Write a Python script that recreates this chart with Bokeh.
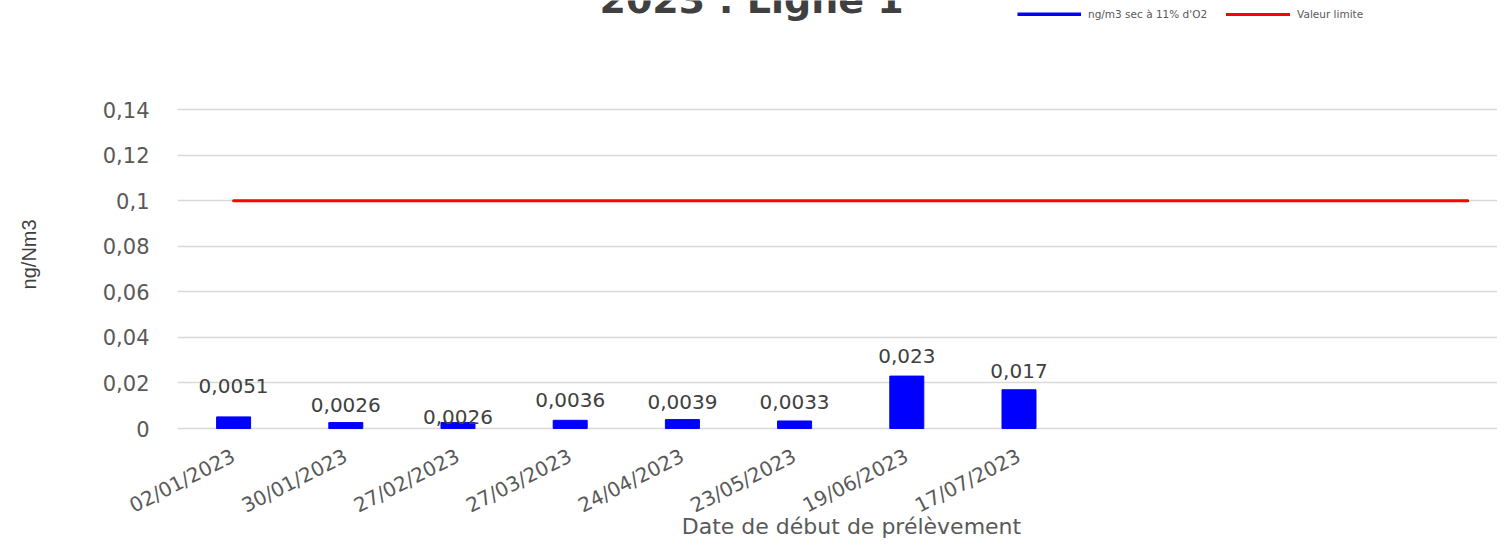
import math
from bokeh.plotting import figure
from bokeh.models import (Range1d, FixedTicker, ColumnDataSource, Legend, LegendItem,
                          Label, LabelSet)
from bokeh.embed import file_html
from bokeh.resources import INLINE
from bokeh.core.properties import value

# ---------------- data ----------------
dates = ["02/01/2023", "30/01/2023", "27/02/2023", "27/03/2023",
         "24/04/2023", "23/05/2023", "19/06/2023", "17/07/2023"]
concentrations = [0.0051, 0.0026, 0.0026, 0.0036, 0.0039, 0.0033, 0.023, 0.017]
value_labels = ["0,0051", "0,0026", "0,0026", "0,0036", "0,0039", "0,0033", "0,023", "0,017"]
n_slots = 12            # category slots on the axis
limit_value = 0.1
y_ticks = [0, 0.02, 0.04, 0.06, 0.08, 0.10, 0.12, 0.14]
y_tick_labels = ["0", "0,02", "0,04", "0,06", "0,08", "0,1", "0,12", "0,14"]
title_text = "2023 : Ligne 1"
series_name = "ng/m3 sec à 11% d'O2"
limit_name = "Valeur limite"
x_title = "Date de début de prélèvement"
y_title = "ng/Nm3"

# ---------------- layout / style ----------------
label_dy = [31, 18, 6, 20, 18, 19, 20, 19]   # pixel offset of data labels above bars
W, H = 1497, 545
frame_left, frame_bottom = 177, 430
slot_px = 112.2
y_px = 319 / 0.14
x_start = -0.5
x_end = x_start + (W - frame_left) / slot_px
y_start = -2 / y_px
y_end = 0.14 + 109 / y_px
GREY = "#595959"
DARK = "#404040"
NBSP = "\u00a0"

p = figure(width=W, height=H, output_backend="svg", toolbar_location=None,
           x_range=Range1d(x_start, x_end), y_range=Range1d(y_start, y_end))
p.min_border_left = frame_left
p.min_border_right = 0
p.min_border_top = 0
p.min_border_bottom = H - frame_bottom
p.outline_line_color = None
p.background_fill_color = "white"
p.border_fill_color = "white"

# grid
p.xgrid.grid_line_color = None
p.ygrid.ticker = FixedTicker(ticks=y_ticks)
p.ygrid.grid_line_color = "#D9D9D9"
p.ygrid.grid_line_width = 1.5

# y axis
p.yaxis.ticker = FixedTicker(ticks=y_ticks)
p.yaxis.major_label_overrides = dict(zip(y_ticks, y_tick_labels))
p.yaxis.axis_line_color = None
p.yaxis.major_tick_line_color = None
p.yaxis.minor_tick_line_color = None
p.yaxis.major_label_standoff = 22
p.yaxis.major_label_text_font = "DejaVu Sans"
p.yaxis.major_label_text_font_size = "21px"
p.yaxis.major_label_text_color = GREY
# axis title, shifted down along the axis to sit where the reference has it
p.yaxis.axis_label = y_title + NBSP * 14
p.yaxis.axis_label_standoff = 60
p.yaxis.axis_label_text_font = "Liberation Sans"
p.yaxis.axis_label_text_font_size = "20px"
p.yaxis.axis_label_text_font_style = "normal"
p.yaxis.axis_label_text_color = DARK

# x axis
xs = list(range(len(dates)))
p.xaxis.ticker = FixedTicker(ticks=xs)
p.xaxis.major_label_overrides = dict(zip(xs, dates))
p.xaxis.major_label_orientation = math.radians(27)
p.xaxis.axis_line_color = None
p.xaxis.major_tick_line_color = None
p.xaxis.minor_tick_line_color = None
p.xaxis.major_label_standoff = 18
p.xaxis.major_label_text_font = "DejaVu Sans"
p.xaxis.major_label_text_font_size = "20px"
p.xaxis.major_label_text_color = GREY
p.xaxis.axis_label = NBSP * 4 + x_title
p.xaxis.axis_label_standoff = -17
p.xaxis.axis_label_text_font = "DejaVu Sans"
p.xaxis.axis_label_text_font_size = "22px"
p.xaxis.axis_label_text_font_style = "normal"
p.xaxis.axis_label_text_color = GREY

# bars
src = ColumnDataSource(dict(x=xs, top=concentrations, text=value_labels, dy=label_dy))
bars = p.vbar(x="x", top="top", width=0.303, source=src,
              fill_color="#0000FF", line_color="#0000FF")

# limit line
limit_r = p.line(x=list(range(n_slots)), y=[limit_value] * n_slots,
                 line_color="#FF0000", line_width=3, line_cap="round")

# data labels
labels = LabelSet(x="x", y="top", text="text", y_offset="dy", source=src,
                  text_align="center", text_baseline="middle",
                  text_font=value("DejaVu Sans"), text_font_size="20px", text_color=DARK)
p.add_layout(labels)

# legend (series shown with a line symbol, as in the reference)
legend_proxy = p.line(x=[float("nan")], y=[float("nan")], line_color="#0000FF", line_width=4)
legend = Legend(items=[LegendItem(label=series_name, renderers=[legend_proxy]),
                       LegendItem(label=limit_name, renderers=[limit_r])],
                orientation="horizontal", location=(840, 410),
                glyph_width=64, glyph_height=4, label_height=4,
                label_text_font="DejaVu Sans", label_text_font_size="10.5px",
                label_text_color=GREY, label_standoff=7, spacing=19,
                padding=0, margin=0, border_line_color=None, background_fill_alpha=0)
p.add_layout(legend)

# title (partially cut off at the top, as in the reference)
p.add_layout(Label(x=4.617, y=y_end - 21 / y_px, text=title_text, text_align="center",
                   text_baseline="bottom", text_font="DejaVu Sans",
                   text_font_style="bold", text_font_size="38px", text_color=DARK))

open("out.html", "w").write(file_html(p, INLINE))
